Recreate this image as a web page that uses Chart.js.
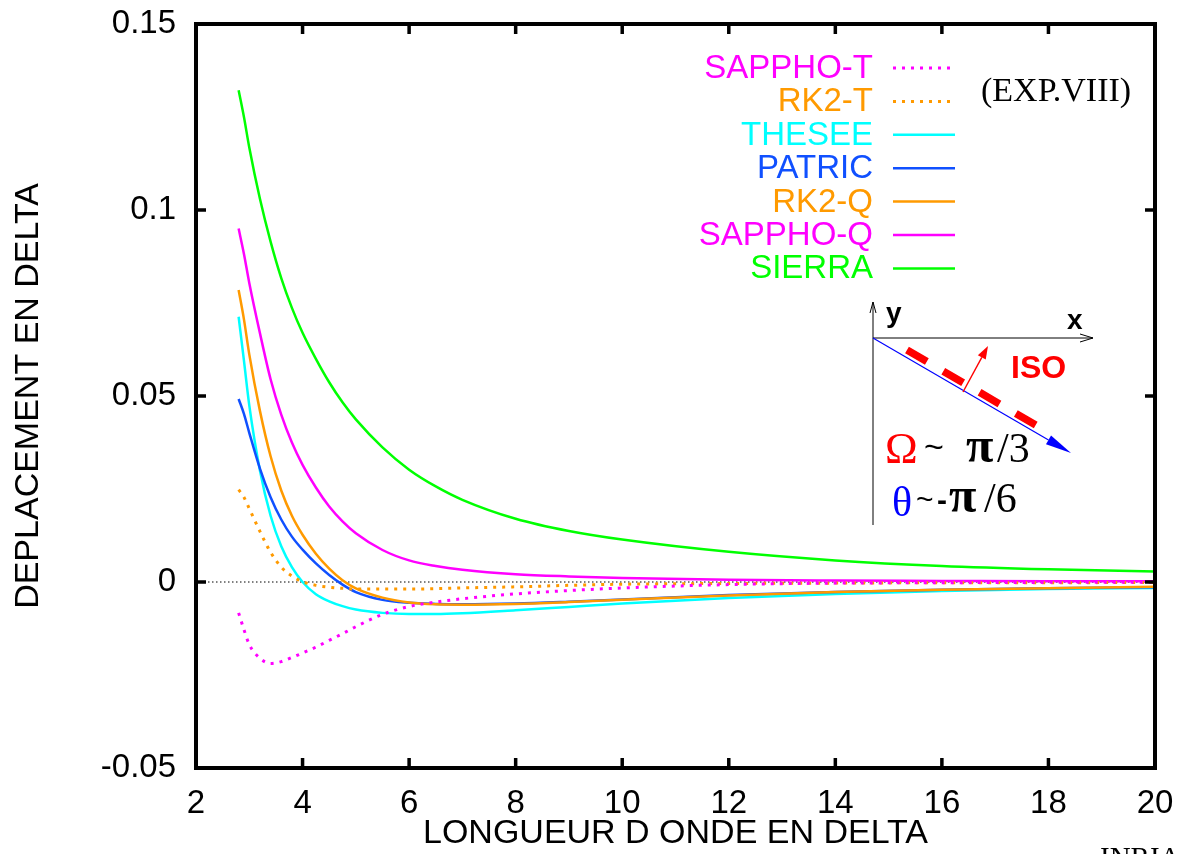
<!DOCTYPE html>
<html><head><meta charset="utf-8">
<script src="https://cdn.jsdelivr.net/npm/chart.js@4.4.1/dist/chart.umd.min.js"></script>
<style>html,body{margin:0;padding:0;background:#fff;} #wrap{width:1183px;height:854px;position:relative;}</style>
</head><body><div id="wrap"><canvas id="c"></canvas></div>
<script>
// ---- data ----
const xValues = [2.8, 2.9, 3.0, 3.2, 3.4, 3.6, 3.8, 4.0, 4.25, 4.5, 4.75, 5.0, 5.5, 6, 6.5, 7, 8, 9, 10, 12, 14, 16, 18, 20];
const sierra   = [0.1322, 0.1250, 0.1168, 0.1030, 0.0915, 0.0817, 0.0737, 0.0670, 0.0600, 0.0537, 0.0483, 0.0437, 0.0362, 0.0302, 0.0257, 0.0221, 0.0170, 0.0137, 0.0114, 0.0081, 0.0058, 0.0043, 0.0034, 0.0028];
const sapphoQ  = [0.0950, 0.0882, 0.0804, 0.0669, 0.0545, 0.0450, 0.0375, 0.0315, 0.0254, 0.0203, 0.0163, 0.0131, 0.0086, 0.0058, 0.0043, 0.0033, 0.0021, 0.0015, 0.0011, 0.0006, 0.0004, 0.0003, 0.0002, 0.0002];
const rk2Q     = [0.0785, 0.0706, 0.0612, 0.0460, 0.0338, 0.0246, 0.0178, 0.0127, 0.0076, 0.0036, 0.0005, -0.0017, -0.0042, -0.0055, -0.0060, -0.0061, -0.0059, -0.0054, -0.0048, -0.0036, -0.0027, -0.0021, -0.0017, -0.0013];
const patric   = [0.0492, 0.0452, 0.0401, 0.0305, 0.0228, 0.0168, 0.0122, 0.0087, 0.0050, 0.0019, -0.0007, -0.0027, -0.0048, -0.0056, -0.0059, -0.0060, -0.0058, -0.0053, -0.0047, -0.0035, -0.0027, -0.0021, -0.0017, -0.0014];
const thesee   = [0.0713, 0.0595, 0.0475, 0.0300, 0.0178, 0.0096, 0.0040, 0.0000, -0.0033, -0.0052, -0.0065, -0.0074, -0.0083, -0.0086, -0.0086, -0.0084, -0.0076, -0.0067, -0.0058, -0.0043, -0.0032, -0.0024, -0.0019, -0.0016];
const rk2T     = [0.0248, 0.0228, 0.0197, 0.0136, 0.0080, 0.0040, 0.0016, 0.0001, -0.0009, -0.0014, -0.0017, -0.0019, -0.0019, -0.0019, -0.0018, -0.0016, -0.0013, -0.0009, -0.0006, -0.0004, -0.0003, -0.0002, -0.0002, -0.0001];
const sapphoT  = [-0.0083, -0.0128, -0.0168, -0.0205, -0.0219, -0.0214, -0.0203, -0.0191, -0.0175, -0.0157, -0.0139, -0.0120, -0.0087, -0.0066, -0.0054, -0.0045, -0.0032, -0.0023, -0.0016, -0.0007, -0.0003, -0.0002, -0.0001, -0.0001];
const zeroX = [2, 20];
const zeroY = [0, 0];
const xTicks = [2, 4, 6, 8, 10, 12, 14, 16, 18, 20];
const yTicks = [-0.05, 0, 0.05, 0.1, 0.15];
const seriesNames = ['SAPPHO-T', 'RK2-T', 'THESEE', 'PATRIC', 'RK2-Q', 'SAPPHO-Q', 'SIERRA'];

const SANS = "'Liberation Sans', Arial, Helvetica, sans-serif";
const SERIF = "'Liberation Serif', 'Times New Roman', serif";
const C = {mag:'#ff00ff', org:'#ff9a00', cyan:'#00ffff', blue:'#1050ff', green:'#00ff00'};

const pts = (xs, ys) => xs.map((x, i) => ({x, y: ys[i]}));
function ds(label, ys, color, dotted, order) {
  return {label, data: pts(xValues, ys), borderColor: color, backgroundColor: color,
    borderWidth: dotted ? 3 : 2.5, borderDash: dotted ? [3, 6] : [], pointRadius: 0,
    cubicInterpolationMode: 'monotone', fill: false, order, borderCapStyle: 'butt'};
}
const datasets = [
  ds(seriesNames[0], sapphoT, C.mag, true, 1),
  ds(seriesNames[1], rk2T, C.org, true, 2),
  ds(seriesNames[2], thesee, C.cyan, false, 5),
  ds(seriesNames[3], patric, C.blue, false, 4),
  ds(seriesNames[4], rk2Q, C.org, false, 3),
  ds(seriesNames[5], sapphoQ, C.mag, false, 6),
  ds(seriesNames[6], sierra, C.green, false, 7),
  {label: 'zero', data: pts(zeroX, zeroY), borderColor: '#000', borderWidth: 1, borderDash: [1.5, 2.5], pointRadius: 0, order: 10}
];

const framePlugin = {
  id: 'frame',
  afterDatasetsDraw(chart) {
    const {ctx, chartArea: a, scales: {x, y}} = chart;
    ctx.save();
    ctx.strokeStyle = '#000';
    ctx.lineWidth = 4;
    ctx.strokeRect(a.left, a.top, a.right - a.left, a.bottom - a.top);
    ctx.lineWidth = 3.5;
    const L = 10;
    ctx.beginPath();
    xTicks.forEach(v => { const p = x.getPixelForValue(v);
      ctx.moveTo(p, a.bottom); ctx.lineTo(p, a.bottom - L);
      ctx.moveTo(p, a.top); ctx.lineTo(p, a.top + L); });
    yTicks.forEach(v => { const p = y.getPixelForValue(v);
      ctx.moveTo(a.left, p); ctx.lineTo(a.left + L, p);
      ctx.moveTo(a.right, p); ctx.lineTo(a.right - L, p); });
    ctx.stroke();
    ctx.restore();
  },
  afterDraw(chart) {
    const ctx = chart.ctx;
    ctx.save();
    // legend
    ctx.font = '33px ' + SANS;
    ctx.textAlign = 'right';
    ctx.textBaseline = 'middle';
    seriesNames.forEach((n, i) => {
      const d = chart.data.datasets.find(s => s.label === n);
      const yy = 68 + i * 33.4;
      ctx.fillStyle = d.borderColor;
      ctx.fillText(n, 873, yy + 1);
      ctx.strokeStyle = d.borderColor;
      ctx.lineWidth = d.borderWidth;
      ctx.setLineDash(d.borderDash);
      ctx.beginPath(); ctx.moveTo(893, yy); ctx.lineTo(955, yy); ctx.stroke();
    });
    ctx.setLineDash([]);
    // (EXP.VIII)
    ctx.fillStyle = '#000';
    ctx.textAlign = 'left';
    ctx.textBaseline = 'alphabetic';
    ctx.font = '34px ' + SERIF;
    ctx.fillText('(EXP.VIII)', 981, 101);
    // inset axes
    ctx.strokeStyle = '#000'; ctx.lineWidth = 1;
    ctx.beginPath();
    ctx.moveTo(873, 525); ctx.lineTo(873, 302);
    ctx.moveTo(870, 313); ctx.lineTo(873, 302); ctx.lineTo(876, 313);
    ctx.moveTo(873, 338); ctx.lineTo(1093, 338);
    ctx.moveTo(1080, 334); ctx.lineTo(1093, 338); ctx.lineTo(1080, 342);
    ctx.stroke();
    ctx.font = 'bold 28px ' + SANS;
    ctx.fillText('y', 886, 322);
    ctx.fillText('x', 1067, 329);
    function arrow(x0, y0, x1, y1, col, w, hl, hw) {
      const ang = Math.atan2(y1 - y0, x1 - x0);
      const bx = x1 - hl * Math.cos(ang), by = y1 - hl * Math.sin(ang);
      ctx.strokeStyle = col; ctx.fillStyle = col; ctx.lineWidth = w;
      ctx.beginPath(); ctx.moveTo(x0, y0); ctx.lineTo(bx, by); ctx.stroke();
      ctx.beginPath(); ctx.moveTo(x1, y1);
      ctx.lineTo(bx + hw * Math.sin(ang), by - hw * Math.cos(ang));
      ctx.lineTo(bx - hw * Math.sin(ang), by + hw * Math.cos(ang));
      ctx.closePath(); ctx.fill();
    }
    arrow(873, 338, 1071, 453, '#0000ff', 1.2, 26, 5);
    ctx.strokeStyle = '#ff0000'; ctx.lineWidth = 7.5; ctx.setLineDash([23, 19]);
    ctx.beginPath(); ctx.moveTo(907, 350); ctx.lineTo(1039, 427); ctx.stroke();
    ctx.setLineDash([]);
    arrow(963, 392, 988, 346, '#ff0000', 1.4, 13, 4.5);
    ctx.fillStyle = '#ff0000';
    ctx.font = 'bold 32px ' + SANS;
    ctx.fillText('ISO', 1011, 378);
    // Omega / theta text
    ctx.fillStyle = '#ff0000'; ctx.font = '44px ' + SERIF;
    ctx.fillText('\u03A9', 885, 463);
    ctx.fillStyle = '#000'; ctx.font = '34px ' + SANS;
    ctx.fillText('~', 924, 458);
    ctx.font = 'bold 50px ' + SERIF;
    ctx.fillText('\u03C0', 966, 462);
    ctx.font = '42px ' + SERIF;
    ctx.fillText('/3', 997, 462);
    ctx.fillStyle = '#0000ff'; ctx.font = '42px ' + SERIF;
    ctx.fillText('\u03B8', 892, 516);
    ctx.fillStyle = '#000'; ctx.font = '30px ' + SANS;
    ctx.fillText('~', 916, 509);
    ctx.font = 'bold 30px ' + SANS;
    ctx.fillText('-', 937, 510);
    ctx.font = 'bold 50px ' + SERIF;
    ctx.fillText('\u03C0', 949, 512);
    ctx.font = '42px ' + SERIF;
    ctx.fillText('/6', 984, 512);
    // INRIA
    ctx.font = '29px ' + SERIF;
    ctx.fillText('INRIA', 1100, 867);
    ctx.restore();
  }
};

new Chart(document.getElementById('c'), {
  type: 'line',
  data: {datasets},
  options: {
    animation: false, responsive: true, maintainAspectRatio: false,
    layout: {padding: {top: 24, right: 28, left: 0, bottom: 0}},
    plugins: {legend: {display: false}, tooltip: {enabled: false}},
    scales: {
      x: {type: 'linear', min: 2, max: 20,
        afterBuildTicks: s => { s.ticks = xTicks.map(v => ({value: v})); },
        ticks: {color: '#000', font: {size: 33, family: SANS}, padding: 16, maxRotation: 0, autoSkip: false,
          callback: v => String(v)},
        grid: {display: false, drawTicks: false}, border: {display: false},
        title: {display: true, text: 'LONGUEUR D ONDE EN DELTA', color: '#000', font: {size: 34, family: SANS}, padding: {top: 0, bottom: 0}},
        afterFit: s => { s.height = 86; s.paddingLeft = 0; s.paddingRight = 0; }
      },
      y: {type: 'linear', min: -0.05, max: 0.15,
        afterBuildTicks: s => { s.ticks = yTicks.map(v => ({value: v})); },
        ticks: {color: '#000', font: {size: 33, family: SANS}, padding: 20,
          callback: v => String(Number(v.toFixed(2)))},
        grid: {display: false, drawTicks: false}, border: {display: false},
        title: {display: true, text: 'DEPLACEMENT EN DELTA', color: '#000', font: {size: 34, family: SANS}, padding: {top: 8, bottom: 0}},
        afterFit: s => { s.width = 196; s.paddingTop = 0; s.paddingBottom = 0; }
      }
    }
  },
  plugins: [framePlugin]
});
</script>
</body></html>
